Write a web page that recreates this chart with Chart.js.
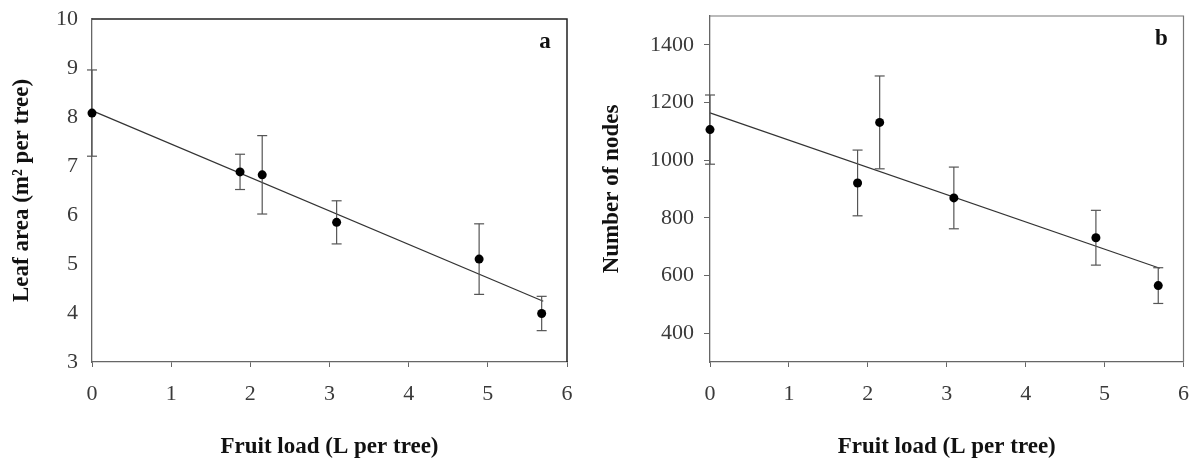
<!DOCTYPE html>
<html>
<head>
<meta charset="utf-8">
<script src="https://cdn.jsdelivr.net/npm/chart.js@4.4.1/dist/chart.umd.min.js"></script>
<style>
  html, body { margin: 0; padding: 0; background: #fff; }
  #wrap { position: relative; width: 1203px; height: 459px; }
  .panel { position: absolute; top: 0; height: 459px; }
  #pa { left: 0; width: 601px; }
  #pb { left: 601px; width: 602px; }
</style>
</head>
<body>
<div id="wrap">
  <div class="panel" id="pa"><canvas id="ca"></canvas></div>
  <div class="panel" id="pb"><canvas id="cb"></canvas></div>
</div>
<script>
// values
const loadX = [0, 1.87, 2.15, 3.09, 4.89, 5.68];
const leafArea = [8.08, 6.88, 6.82, 5.85, 5.10, 3.99];
const leafAreaErr = [0.88, 0.36, 0.80, 0.44, 0.72, 0.35];
const nodes = [1106, 921, 1131, 869, 731, 565];
const nodesErr = [120, 114, 161, 107, 95, 62];

// fitted regression lines (end points)
const fitX = [0, 5.7];
const leafFit = [8.13, 4.24];
const nodesFit = [1164, 625];

const xTicks = [0, 1, 2, 3, 4, 5, 6];
const leafTicks = [3, 4, 5, 6, 7, 8, 9, 10];
const nodeTicks = [400, 600, 800, 1000, 1200, 1400];

const serif = "'Liberation Serif', 'DejaVu Serif', serif";

function buildDatasets(ys, errs, fit) {
  const means = {
    data: loadX.map((x, i) => ({ x, y: ys[i] })),
    pointRadius: 4.5,
    pointBackgroundColor: "#000",
    pointBorderWidth: 0,
    showLine: false,
    clip: false,
  };
  const bars = loadX.map((x, i) => ({
    data: [{ x, y: ys[i] - errs[i] }, { x, y: ys[i] + errs[i] }],
    showLine: true,
    borderColor: "#555",
    borderWidth: 1.2,
    pointStyle: "line",
    pointRadius: 5,
    pointBorderColor: "#555",
    pointBorderWidth: 1.2,
    clip: false,
  }));
  const line = {
    data: fitX.map((x, i) => ({ x, y: fit[i] })),
    showLine: true,
    borderColor: "#333",
    borderWidth: 1.2,
    pointRadius: 0,
    clip: false,
  };
  return [means, ...bars, line];
}

function framePlugin(letter, color, width) {
  return {
    id: "frame",
    beforeDatasetsDraw(chart) {
      const { ctx, chartArea: a } = chart;
      ctx.save();
      ctx.strokeStyle = color;
      ctx.lineWidth = width;
      ctx.beginPath();
      ctx.moveTo(a.left, a.top);
      ctx.lineTo(a.right, a.top);
      ctx.lineTo(a.right, a.bottom);
      ctx.stroke();
      ctx.restore();
    },
    afterDraw(chart) {
      const { ctx, chartArea: a } = chart;
      ctx.save();
      ctx.font = "bold 23px " + serif;
      ctx.fillStyle = "#111";
      ctx.textAlign = "center";
      ctx.textBaseline = "middle";
      ctx.fillText(letter, a.right - 22, a.top + 23);
      ctx.restore();
    },
  };
}

function xScale() {
  return {
    type: "linear",
    min: 0,
    max: 6,
    afterBuildTicks: (s) => { s.ticks = xTicks.map((v) => ({ value: v })); },
    afterFit: (s) => { s.height = 97; },
    grid: { display: true, drawOnChartArea: false, drawTicks: true, tickLength: 5, tickColor: "#666" },
    border: { color: "#666", width: 1.3 },
    ticks: { padding: 14, color: "#3a3a3a", font: { family: serif, size: 22 }, maxRotation: 0 },
    title: {
      display: true,
      text: "Fruit load (L per tree)",
      color: "#111",
      font: { family: serif, size: 23, weight: "bold", lineHeight: 1 },
      padding: { top: 0, bottom: 0 },
    },
  };
}

function makeChart(id, cfg) {
  return new Chart(document.getElementById(id), {
    type: "scatter",
    data: { datasets: buildDatasets(cfg.ys, cfg.errs, cfg.fit) },
    options: {
      responsive: true,
      maintainAspectRatio: false,
      animation: false,
      events: [],
      layout: { padding: cfg.padding },
      plugins: { legend: { display: false }, tooltip: { enabled: false } },
      scales: {
        x: xScale(),
        y: {
          type: "linear",
          min: cfg.min,
          max: cfg.max,
          afterBuildTicks: (s) => { s.ticks = cfg.ticks.map((v) => ({ value: v })); },
          afterFit: (s) => {
            s.width = cfg.yWidth;
            s.paddingTop = 0;
            s.paddingBottom = 0;
          },
          grid: { display: true, drawOnChartArea: false, drawTicks: cfg.yTickLen > 0, tickLength: cfg.yTickLen, tickColor: "#666" },
          border: { color: "#666", width: 1.3 },
          ticks: {
            padding: cfg.yPad,
            color: "#3a3a3a",
            font: { family: serif, size: 22 },
            callback: (v) => String(v),
          },
          title: {
            display: true,
            text: cfg.title,
            color: "#111",
            font: { family: serif, size: 23, weight: "bold", lineHeight: 1 },
            padding: { top: cfg.titlePad, bottom: 0 },
          },
        },
      },
    },
    plugins: [framePlugin(cfg.letter, cfg.frameColor, cfg.frameWidth)],
  });
}

makeChart("ca", {
  ys: leafArea, errs: leafAreaErr, fit: leafFit,
  min: 3, max: 10, ticks: leafTicks,
  yWidth: 92, yTickLen: 0, yPad: 14, titlePad: 11,
  title: "Leaf area (m\u00B2 per tree)",
  padding: { top: 19, right: 34, left: 0, bottom: 0 },
  letter: "a", frameColor: "#222", frameWidth: 1.5,
});

makeChart("cb", {
  ys: nodes, errs: nodesErr, fit: nodesFit,
  min: 300, max: 1500, ticks: nodeTicks,
  yWidth: 109, yTickLen: 6, yPad: 10, titlePad: 0,
  title: "Number of nodes",
  padding: { top: 16, right: 16, left: 0, bottom: 0 },
  letter: "b", frameColor: "#777", frameWidth: 1.2,
});
</script>
</body>
</html>
